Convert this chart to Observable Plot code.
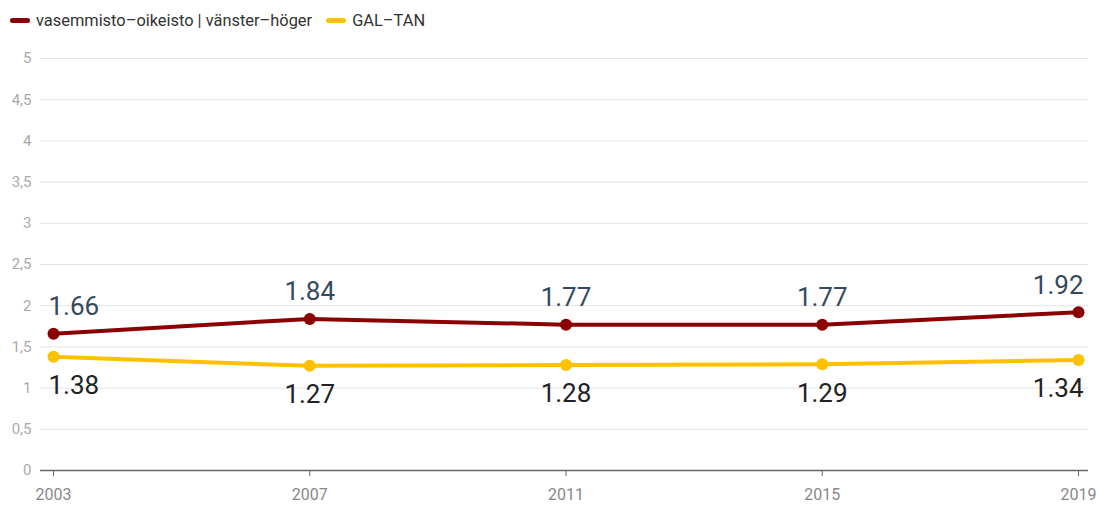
<!DOCTYPE html>
<html>
<head>
<meta charset="utf-8">
<script src="https://cdn.jsdelivr.net/npm/d3@7"></script>
<script src="https://cdn.jsdelivr.net/npm/@observablehq/plot@0.6"></script>
<style>
  html, body { margin: 0; padding: 0; background: #fff; font-family: Roboto, "Noto Sans", sans-serif; }
  #legend { height: 40px; display: flex; align-items: center; padding-left: 10px; font-size: 16.4px; color: #333; }
  .item { display: flex; align-items: center; margin-right: 14px; }
  .sw { width: 20px; height: 5px; border-radius: 3px; margin-right: 6px; }
</style>
</head>
<body>
<div id="legend"></div>
<div id="chart"></div>
<script>
const years = [2003, 2007, 2011, 2015, 2019];
const leftRight = [1.66, 1.84, 1.77, 1.77, 1.92];
const galTan = [1.38, 1.27, 1.28, 1.29, 1.34];
const seriesNames = ["vasemmisto–oikeisto | vänster–höger", "GAL–TAN"];
const seriesColors = ["#8b0000", "#ffc000"];
const labelColors = ["#34495e", "#222222"];
const yTicks = [0, 0.5, 1, 1.5, 2, 2.5, 3, 3.5, 4, 4.5, 5];

const legend = document.getElementById("legend");
seriesNames.forEach((n, i) => {
  const it = document.createElement("div");
  it.className = "item";
  it.innerHTML = `<span class="sw" style="background:${seriesColors[i]}"></span><span>${n}</span>`;
  legend.appendChild(it);
});

const data = [];
years.forEach((y, i) => {
  data.push({year: y, value: leftRight[i], series: seriesNames[0], idx: i});
  data.push({year: y, value: galTan[i], series: seriesNames[1], idx: i});
});
const anchorOf = d => d.idx === 0 ? "start" : d.idx === years.length - 1 ? "end" : "middle";
const fmt = v => v.toFixed(2);

const marks = [
  Plot.ruleY(yTicks.filter(t => t > 0), {stroke: "#e3e3e3", strokeWidth: 1}),
  Plot.axisY(yTicks, {tickSize: 0, tickPadding: 9, fontSize: 15, fill: "#aaa", tickFormat: t => String(t).replace(".", ","), label: null}),
  Plot.ruleY([0], {stroke: "#666", strokeWidth: 1.5}),
  Plot.axisX(years, {tickSize: 6, tickPadding: 12, fontSize: 16, fill: "#888", stroke: "#666", tickFormat: d => String(d), label: null}),
];
seriesNames.forEach((s, i) => {
  const sd = data.filter(d => d.series === s);
  marks.push(Plot.line(sd, {x: "year", y: "value", stroke: seriesColors[i], strokeWidth: 4}));
  marks.push(Plot.dot(sd, {x: "year", y: "value", fill: seriesColors[i], r: 6}));
  ["start", "middle", "end"].forEach(a => {
    marks.push(Plot.text(sd.filter(d => anchorOf(d) === a), {
      x: "year", y: "value", text: d => fmt(d.value),
      textAnchor: a, dx: a === "start" ? -5 : a === "end" ? 5 : 0,
      dy: i === 0 ? -27 : 29,
      fontSize: 26, fill: labelColors[i]
    }));
  });
});

const chart = Plot.plot({
  width: 1100,
  height: 465,
  marginTop: 18,
  marginBottom: 35,
  marginLeft: 40,
  marginRight: 12,
  x: {domain: [2003, 2019], insetLeft: 13, insetRight: 10, axis: null},
  y: {domain: [0, 5], axis: null},
  style: {fontFamily: "Roboto, 'Noto Sans', sans-serif", background: "#fff"},
  marks
});
document.getElementById("chart").appendChild(chart);
</script>
</body>
</html>
